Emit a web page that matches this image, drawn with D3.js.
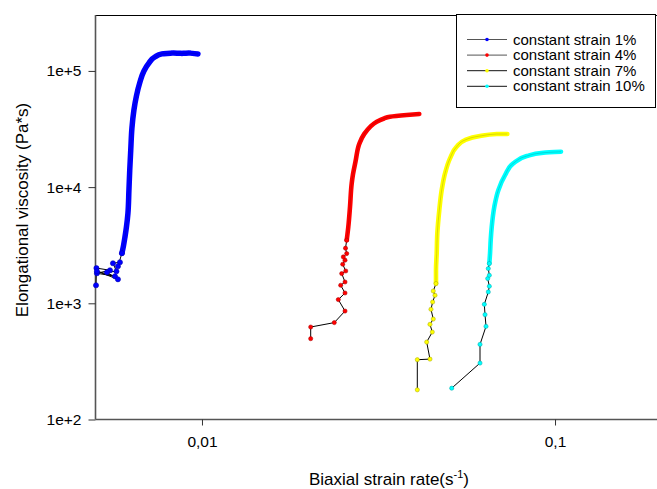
<!DOCTYPE html>
<html lang="en">
<head>
<meta charset="UTF-8">
<title>elongational viscosity</title>
<script src="https://d3js.org/d3.v7.min.js"></script>
<style>
    body{ margin:0; background:#fff; }
    text{ font-family:"Liberation Sans", Arial, sans-serif; fill:#000; }
</style>
</head>
<body>
<svg id="chart" width="657" height="489"></svg>
<script>
    // series: [strain rate (1/s), viscosity (Pa*s)]
    let labels = ["constant strain 1%", "constant strain 4%", "constant strain 7%", "constant strain 10%"];
    let colors = ["#0000ff", "#ff0000", "#ffff00", "#00ffff"];

    let strain1 = [
        [0.00501,1430],[0.005024,2010],[0.005488,1925],[0.00504,1814],[0.00567,1710],[0.00504,1888],
        [0.00578,1610],[0.005381,1850],[0.005725,1888],[0.005596,2212],[0.005856,2256],[0.00578,2084],
        [0.005933,2698],[0.00599,3100],[0.00605,3707],[0.006109,4520],[0.00617,5970],[0.00621,9420],
        [0.006243,14020],[0.006284,20840],[0.006333,32260],[0.006416,46110],[0.006521,60890],
        [0.006673,80390],[0.006849,100000],[0.007077,117200],[0.00736,132000],[0.007703,140200],
        [0.008222,142980],[0.008777,141570],[0.009247,143000],[0.009743,140200]
    ];
    let strain4 = [
        [0.02032,496],[0.02032,625],[0.0237,682],[0.02542,858],[0.02433,1076],[0.02542,1227],
        [0.02471,1430],[0.02542,1526],[0.02488,1803],[0.02554,1898],[0.02504,2169],[0.02542,2349],
        [0.02514,2507],[0.0257,2682],[0.0255,2980],[0.0257,3492],[0.02597,4548],[0.02626,6765],
        [0.02655,10760],[0.02675,12700],[0.02722,16600],[0.02795,23900],[0.02882,28700],
        [0.02995,33000],[0.03126,36550],[0.03280,39000],[0.03408,40360],[0.03801,41750],[0.04126,42580]
    ];
    let strain7 = [
        [0.04073,180],[0.04073,327],[0.04424,331],[0.0433,464],[0.04491,566],[0.04424,659],
        [0.0452,732],[0.04453,888],[0.04502,1026],[0.04571,1172],[0.0452,1276],[0.04601,1478],
        [0.04601,1925],[0.04622,2682],[0.04641,3990],[0.04701,6335],[0.04775,9420],[0.0488,13130],
        [0.05041,17680],[0.05266,22260],[0.05559,25430],[0.06131,27530],[0.06837,28640],[0.07327,28640]
    ];
    let strain10 = [
        [0.05098,186],[0.06131,306],[0.06131,443],[0.06376,633],[0.06335,799],[0.06306,980],
        [0.06471,1252],[0.06515,1402],[0.06447,1633],[0.06515,1743],[0.06471,1991],[0.06515,2199],
        [0.06545,2682],[0.06574,3492],[0.06618,4548],[0.0673,6765],[0.06909,9420],[0.07218,12690],
        [0.07618,16010],[0.08316,18500],[0.09265,19760],[0.104,20150]
    ];
    // index where the measured points get so dense they merge into a band
    let denseFrom = [12, 15, 11, 11];

    let xTicks = [0.01, 0.1];
    let xTickLabels = ["0,01", "0,1"];
    let yTicks = [1e2, 1e3, 1e4, 1e5];
    let yTickLabels = ["1e+2", "1e+3", "1e+4", "1e+5"];

    let series = [strain1, strain4, strain7, strain10];

    let svg = d3.select("#chart");
    svg.append("rect").attr("width", 657).attr("height", 489).attr("fill", "#fff");

    let x = d3.scaleLog().domain([0.005, 0.2]).range([95.7, 661.3]);
    let y = d3.scaleLog().domain([100, 3e5]).range([419.5, 15.5]);

    // top frame line
    svg.append("line")
        .attr("x1", 95).attr("x2", 657)
        .attr("y1", 15.5).attr("y2", 15.5)
        .attr("stroke", "#000").attr("stroke-width", 1);

    let xAxis = svg.append("g")
        .attr("transform", "translate(0,419.5)")
        .call(d3.axisBottom(x).tickValues(xTicks).tickSize(6).tickPadding(10)
            .tickFormat((d, i) => xTickLabels[i]));
    let yAxis = svg.append("g")
        .attr("transform", "translate(95.5,0)")
        .call(d3.axisLeft(y).tickValues(yTicks).tickSize(7).tickPadding(7)
            .tickFormat((d, i) => yTickLabels[i]));

    [xAxis, yAxis].forEach(function (a) {
        a.select(".domain").attr("stroke", "#555").attr("stroke-width", 1.6);
        a.selectAll(".tick line").attr("stroke", "#333");
        a.selectAll(".tick text").attr("font-size", "15.5px")
            .attr("font-family", "'Liberation Sans', Arial, sans-serif").attr("fill", "#000");
    });
    yAxis.select(".domain").attr("d", "M0,15V419.5");
    xAxis.select(".domain").attr("d", "M95.5,0H657");

    let line = d3.line().x(d => x(d[0])).y(d => y(d[1]));
    let smooth = d3.line().curve(d3.curveMonotoneY).x(d => x(d[0])).y(d => y(d[1]));

    series.forEach(function (data, i) {
        let g = svg.append("g");
        g.append("path").attr("d", line(data))
            .attr("fill", "none").attr("stroke", "#000").attr("stroke-width", 1);
        g.append("path").attr("d", smooth(data.slice(denseFrom[i])))
            .attr("fill", "none").attr("stroke", colors[i]).attr("stroke-width", i === 0 ? 5.5 : 4.6)
            .attr("stroke-linecap", "round").attr("stroke-linejoin", "round");
        g.append("path").attr("d", smooth(data.slice(denseFrom[i])))
            .attr("fill", "none").attr("stroke", "#000").attr("stroke-opacity", 0.25)
            .attr("stroke-width", 0.6);
        g.selectAll("circle").data(data.slice(0, denseFrom[i] + 1)).join("circle")
            .attr("cx", d => x(d[0])).attr("cy", d => y(d[1]))
            .attr("r", i === 0 ? 2.6 : 2.1)
            .attr("fill", colors[i])
            .attr("stroke", d3.color(colors[i]).darker(1.2)).attr("stroke-width", 0.5);
    });

    // legend
    let lg = svg.append("g");
    lg.append("rect").attr("x", 456.5).attr("y", 14.5).attr("width", 199).attr("height", 93)
        .attr("fill", "#fff").attr("stroke", "#000").attr("stroke-width", 1);
    labels.forEach(function (t, i) {
        let cy = 39.5 + i * 15.6;
        lg.append("line").attr("x1", 467).attr("x2", 507).attr("y1", cy).attr("y2", cy)
            .attr("stroke", i < 2 ? "#555" : "#111").attr("stroke-width", 1);
        lg.append("circle").attr("cx", 487).attr("cy", cy).attr("r", 1.8).attr("fill", colors[i]);
        lg.append("text").attr("x", 513).attr("y", cy + 5).attr("font-size", "15px").text(t);
    });

    // axis titles
    let xt = svg.append("text").attr("x", 389).attr("y", 485)
        .attr("text-anchor", "middle").attr("font-size", "17px");
    xt.append("tspan").text("Biaxial strain rate(s");
    xt.append("tspan").attr("dy", -7).attr("font-size", "11px").text("-1");
    xt.append("tspan").attr("dy", 7).text(")");

    svg.append("text")
        .attr("transform", "translate(28,210) rotate(-90)")
        .attr("text-anchor", "middle").attr("font-size", "17px")
        .text("Elongational viscosity (Pa*s)");
</script>
</body>
</html>
